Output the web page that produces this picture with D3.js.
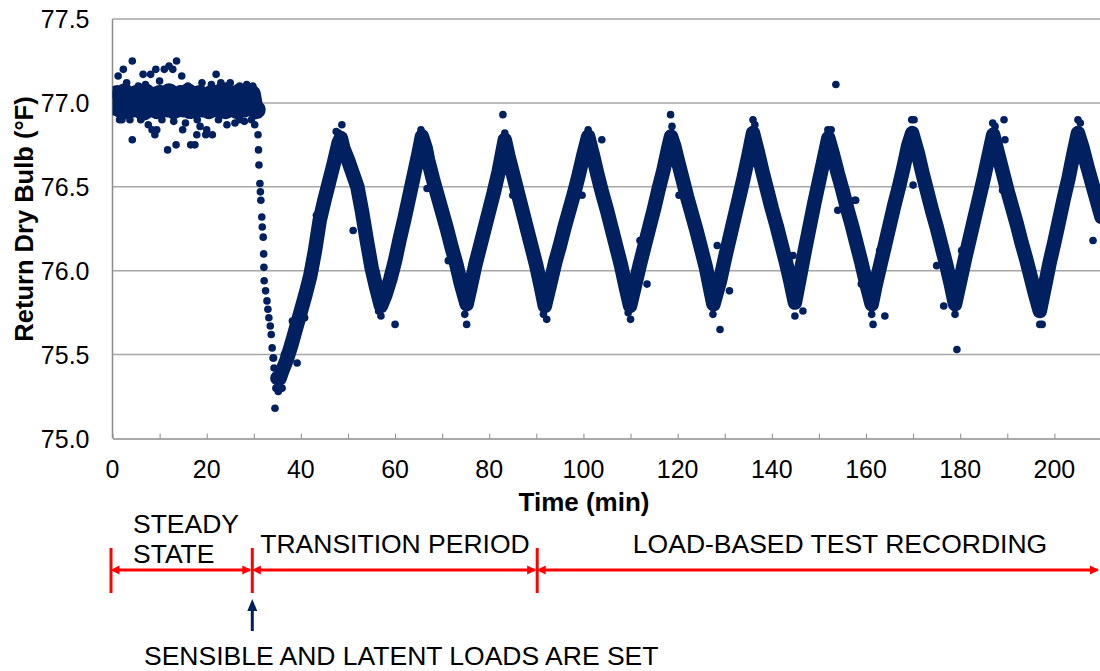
<!DOCTYPE html>
<html>
<head>
<meta charset="utf-8">
<script src="https://cdn.jsdelivr.net/npm/d3@7"></script>
<style>
  html, body { margin: 0; padding: 0; background: #fff; }
  svg { display: block; font-family: "Liberation Sans", Arial, sans-serif; }
</style>
</head>
<body>
<svg id="chart" width="1100" height="671"></svg>
<script>
// --- data ---
const yTicks = [75.0, 75.5, 76.0, 76.5, 77.0, 77.5];
const xTickLabels = [0, 20, 40, 60, 80, 100, 120, 140, 160, 180, 200];
const xTickMarks = [0, 10, 20, 30, 40, 50, 60, 70, 80, 90, 100, 110, 120, 130, 140, 150, 160, 170, 180, 190, 200, 210];

// steady state readings [min, degF]
const steadyReadings = [
  [0, 77.02], [0.5, 76.98], [1, 77.05], [1.5, 76.97], [2, 77.03], [2.5, 77.06], [3, 76.96], [3.5, 77.01],
  [4, 77.04], [4.5, 76.97], [5, 77.05], [5.5, 76.99], [6, 77.02], [6.5, 76.95], [7, 77.06], [7.5, 77.0],
  [8, 76.97], [8.5, 77.04], [9, 77.01], [9.5, 76.96], [10, 77.05], [10.5, 76.98], [11, 77.03], [11.5, 76.97],
  [12, 77.06], [12.5, 77.0], [13, 76.96], [13.5, 77.04], [14, 76.99], [14.5, 77.05], [15, 76.97], [15.5, 77.02],
  [16, 77.06], [16.5, 76.96], [17, 77.01], [17.5, 77.04], [18, 76.98], [18.5, 77.05], [19, 76.97], [19.5, 77.03],
  [20, 77.0], [20.5, 76.96], [21, 77.05], [21.5, 76.99], [22, 77.04], [22.5, 76.97], [23, 77.06], [23.5, 77.0],
  [24, 76.96], [24.5, 77.03], [25, 77.05], [25.5, 76.98], [26, 77.02], [26.5, 76.96], [27, 77.06], [27.5, 77.0],
  [28, 76.97], [28.5, 77.04], [29, 76.99], [29.5, 77.05], [30, 76.97], [30.5, 76.96]
];

// fast drop after loads are set
const dropReadings = [
  [30.7, 76.97], [30.9, 76.81], [31, 76.72], [31.1, 76.63], [31.3, 76.52], [31.4, 76.47], [31.5, 76.42],
  [31.7, 76.32], [31.8, 76.26], [32, 76.2], [32.1, 76.1], [32.15, 76.02], [32.2, 75.94], [32.5, 75.88],
  [32.8, 75.82], [33, 75.77], [33.2, 75.72], [33.5, 75.67], [33.7, 75.62], [33.9, 75.54], [34.1, 75.48],
  [34.3, 75.42], [34.5, 75.36], [34.7, 75.3]
];

// cycling readings
const cycleReadings = [
  [35, 75.36], [35.5, 75.36], [36, 75.4], [37, 75.47], [38, 75.56], [39, 75.66], [40, 75.76], [41, 75.86],
  [42, 75.97], [43, 76.12], [44, 76.3], [45, 76.42], [46, 76.53], [47, 76.64], [48, 76.76], [48.5, 76.79], [49, 76.73],
  [50, 76.66], [51, 76.58], [52, 76.5], [53, 76.35], [54, 76.18], [55, 76.02], [56, 75.9], [57, 75.79],
  [58, 75.86], [59, 75.95], [60, 76.06], [61, 76.19], [62, 76.31], [63, 76.44], [64, 76.57], [65, 76.7], [65.7, 76.8], [66.5, 76.73],
  [67, 76.66], [68, 76.55], [69, 76.45], [70, 76.35], [71, 76.25], [72, 76.14], [73, 76.04], [74, 75.92], [75.2, 75.8],
  [76, 75.9], [77, 76.03], [78, 76.14], [79, 76.25], [80, 76.36], [81, 76.47], [82, 76.59], [83.3, 76.78], [84, 76.69],
  [85, 76.58], [86, 76.47], [87, 76.36], [88, 76.25], [89, 76.14], [90, 76.03], [91, 75.9], [91.8, 75.79],
  [93, 75.93], [94, 76.05], [95, 76.15], [96, 76.26], [97, 76.36], [98, 76.46], [99, 76.57], [100, 76.69], [101, 76.8],
  [102, 76.69], [103, 76.57], [104, 76.46], [105, 76.36], [106, 76.25], [107, 76.14], [108, 76.03], [109, 75.9], [109.9, 75.79],
  [111, 75.92], [112, 76.04], [113, 76.15], [114, 76.26], [115, 76.37], [116, 76.49], [117, 76.6], [118, 76.73], [118.6, 76.8], [119.3, 76.74],
  [120, 76.66], [121, 76.55], [122, 76.44], [123, 76.34], [124, 76.24], [125, 76.13], [126, 76.02], [127, 75.88], [127.6, 75.8],
  [129, 75.94], [130, 76.07], [131, 76.19], [132, 76.31], [133, 76.43], [134, 76.55], [135, 76.68], [136, 76.82],
  [137, 76.71], [138, 76.59], [139, 76.48], [140, 76.37], [141, 76.27], [142, 76.16], [143, 76.05], [144, 75.93], [144.9, 75.81],
  [146, 75.97], [147, 76.12], [148, 76.26], [149, 76.4], [150, 76.53], [151, 76.66], [152, 76.79],
  [153, 76.69], [154, 76.58], [155, 76.48], [156, 76.37], [157, 76.27], [158, 76.16], [159, 76.05], [160, 75.93], [161.2, 75.8],
  [162, 75.91], [163, 76.03], [164, 76.15], [165, 76.27], [166, 76.39], [167, 76.5], [168, 76.62], [169, 76.75], [169.8, 76.82],
  [171, 76.7], [172, 76.58], [173, 76.47], [174, 76.36], [175, 76.26], [176, 76.15], [177, 76.04], [178, 75.92], [178.9, 75.8],
  [180, 75.94], [181, 76.07], [182, 76.19], [183, 76.31], [184, 76.43], [185, 76.55], [186, 76.68], [187, 76.81],
  [188, 76.7], [189, 76.59], [190, 76.48], [191, 76.38], [192, 76.28], [193, 76.17], [194, 76.07], [195, 75.96], [196, 75.85], [196.9, 75.76],
  [198, 75.91], [199, 76.05], [200, 76.17], [201, 76.3], [202, 76.43], [203, 76.55], [204, 76.69], [205, 76.82],
  [206, 76.73], [207, 76.62], [208, 76.52], [209, 76.42], [210, 76.32]
];

// scattered readings outside the main band
const strayReadings = [
  [4.2, 77.25], [13.6, 77.25], [12, 77.22], [9.2, 77.2], [11, 77.2], [12.8, 77.2], [2.3, 77.2], [6.5, 77.17],
  [8.1, 77.17], [22, 77.17], [14.7, 77.16], [1.2, 77.16], [4.2, 76.78], [11.7, 76.72], [13.5, 76.75], [16.6, 76.75],
  [17.5, 76.75], [14.9, 76.84], [17.9, 76.81], [19.8, 76.81], [21.2, 76.81], [9, 76.81], [9.4, 76.84], [8.4, 76.84],
  [7.6, 76.87], [20, 76.84], [24.3, 76.87], [30.2, 76.87], [1.5, 76.9], [3.7, 76.9], [3, 77.12], [19, 77.12],
  [23, 77.12], [25, 77.12], [27, 77.1], [29.8, 77.1], [0, 77.05], [10, 77.13], [26, 76.88], [28, 76.89],
  [15.5, 76.88], [18.6, 76.86], [5.5, 77.1], [7, 77.11], [16, 77.1], [21, 77.11], [24, 77.1], [28.5, 77.11],
  [2, 76.9], [6, 76.9], [10.5, 76.9], [13, 76.89], [18, 76.9], [22.5, 76.9], [27, 76.9], [29.5, 76.9],
  [34.5, 75.18], [36, 75.3], [35.2, 75.28], [34.2, 75.48], [36.5, 75.5], [38.2, 75.7], [39.2, 75.45], [40.8, 75.72],
  [43.3, 76.33], [47.5, 76.83], [48.7, 76.87], [48, 76.82], [51.1, 76.24], [60, 75.68],
  [57, 75.73], [56.5, 75.76], [65.5, 76.84], [66.8, 76.49], [71.3, 76.06], [75.2, 75.68], [74.8, 75.74], [82.9, 76.93],
  [83.3, 76.82], [85, 76.45], [92.2, 75.71], [91.5, 75.74], [99.7, 76.45], [101, 76.84], [103.9, 76.78], [110, 75.71],
  [109.5, 75.75], [112, 76.18], [113.5, 75.92], [118.5, 76.93], [118.8, 76.86], [120.3, 76.45], [127.5, 75.74], [128.4, 76.15],
  [129, 75.65], [131, 75.88], [136, 76.9], [136.4, 76.87], [144.5, 76.09], [144.9, 75.73], [146.6, 75.76], [151.9, 76.84],
  [152.6, 76.84], [153.6, 77.11], [154, 76.36], [157.8, 76.42], [159, 75.92], [157.6, 76.42], [161.5, 75.68], [161.2, 75.74],
  [162.9, 76.12], [164, 75.73], [169.7, 76.9], [170.2, 76.9], [170, 76.51], [175, 76.03], [176.5, 75.79], [178.9, 75.74],
  [179.3, 75.53], [180.3, 76.12], [186.9, 76.88], [187.4, 76.86], [189.3, 76.9], [189.5, 76.78], [189, 76.48], [196.9, 75.68],
  [197.4, 75.68], [205, 76.9], [205.5, 76.88], [208.2, 76.18]
];

// test phases (min)
const phaseBounds = [0, 30, 90.5, 210];
const phaseNames = ['TRANSITION PERIOD', 'LOAD-BASED TEST RECORDING'];

// --- layout ---
const margin = { left: 112.5, top: 19 };
const plotW = 989;
const plotH = 419.5;
const navy = '#002060';
const red = '#ff0000';

const svg = d3.select('#chart');

const x = d3.scaleLinear().domain([0, 210]).range([margin.left, margin.left + plotW]);
const y = d3.scaleLinear().domain([75, 77.5]).range([margin.top + plotH, margin.top]);

svg.append('defs').append('clipPath').attr('id', 'plotClip')
  .append('rect')
  .attr('x', margin.left).attr('y', margin.top - 6)
  .attr('width', plotW).attr('height', plotH + 6);

// gridlines
svg.append('g')
  .selectAll('line')
  .data(yTicks.slice(1))
  .join('line')
  .attr('x1', x(0)).attr('x2', x(210))
  .attr('y1', (d) => y(d)).attr('y2', (d) => y(d))
  .attr('stroke', '#a6a6a6')
  .attr('stroke-width', 1.5);

// y axis line and labels
svg.append('line')
  .attr('x1', x(0)).attr('x2', x(0))
  .attr('y1', y(77.5)).attr('y2', y(75))
  .attr('stroke', '#8c8c8c').attr('stroke-width', 1.5);

svg.append('g')
  .selectAll('text')
  .data(yTicks)
  .join('text')
  .attr('x', x(0) - 23)
  .attr('y', (d) => y(d))
  .attr('dy', '0.36em')
  .attr('text-anchor', 'end')
  .attr('font-size', 25)
  .text((d) => d.toFixed(1));

// x axis
const xAxis = d3.axisBottom(x)
  .tickValues(xTickMarks)
  .tickSize(-5)
  .tickSizeOuter(0)
  .tickFormat('');
const gx = svg.append('g')
  .attr('transform', `translate(0,${y(75)})`)
  .call(xAxis);
gx.select('.domain').attr('stroke', '#8c8c8c').attr('stroke-width', 1.5);
gx.selectAll('.tick line').attr('stroke', '#8c8c8c');

svg.append('g')
  .selectAll('text')
  .data(xTickLabels)
  .join('text')
  .attr('x', (d) => x(d))
  .attr('y', y(75) + 39)
  .attr('text-anchor', 'middle')
  .attr('font-size', 25)
  .text((d) => d);

// axis titles
svg.append('text')
  .attr('x', 584)
  .attr('y', 511)
  .attr('text-anchor', 'middle')
  .attr('font-size', 26)
  .attr('font-weight', 'bold')
  .text('Time (min)');

svg.append('text')
  .attr('transform', 'translate(33,219) rotate(-90)')
  .attr('text-anchor', 'middle')
  .attr('font-size', 25.5)
  .attr('font-weight', 'bold')
  .text('Return Dry Bulb (°F)');

// --- data marks ---
const data = svg.append('g').attr('clip-path', 'url(#plotClip)');
const line = d3.line().x((d) => x(d[0])).y((d) => y(d[1]));

data.append('path')
  .datum(steadyReadings)
  .attr('d', line)
  .attr('fill', 'none')
  .attr('stroke', navy)
  .attr('stroke-width', 19)
  .attr('stroke-linejoin', 'round')
  .attr('stroke-linecap', 'round');

data.append('path')
  .datum(cycleReadings)
  .attr('d', line)
  .attr('fill', 'none')
  .attr('stroke', navy)
  .attr('stroke-width', 14.5)
  .attr('stroke-linejoin', 'round')
  .attr('stroke-linecap', 'round');

data.append('g')
  .selectAll('circle')
  .data(dropReadings.concat(strayReadings))
  .join('circle')
  .attr('cx', (d) => x(d[0]))
  .attr('cy', (d) => y(d[1]))
  .attr('r', 3.8)
  .attr('fill', navy);

// --- phase annotations ---
const ann = svg.append('g');
const barTop = 548;
const barBottom = 593;
const arrowY = 570;

ann.selectAll('line.bar')
  .data(phaseBounds.slice(0, 3))
  .join('line')
  .attr('class', 'bar')
  .attr('x1', (d) => x(d) - 1.5).attr('x2', (d) => x(d) - 1.5)
  .attr('y1', barTop).attr('y2', barBottom)
  .attr('stroke', red).attr('stroke-width', 3);

const segs = d3.pairs(phaseBounds);
ann.selectAll('line.seg')
  .data(segs)
  .join('line')
  .attr('class', 'seg')
  .attr('x1', (d) => x(d[0]) + 2).attr('x2', (d) => Math.min(x(d[1]) - 4, 1100))
  .attr('y1', arrowY).attr('y2', arrowY)
  .attr('stroke', red).attr('stroke-width', 3);

// arrowheads at both ends of each segment
const heads = [];
segs.forEach((s) => {
  heads.push({ tip: x(s[0]), dir: -1 });
  heads.push({ tip: Math.min(x(s[1]) - 1.5, 1100), dir: 1 });
});
ann.selectAll('path.head')
  .data(heads)
  .join('path')
  .attr('class', 'head')
  .attr('d', (d) => {
    const t = d.dir > 0 ? d.tip - 1 : d.tip - 2;
    const b = t - d.dir * 9;
    return `M${t},${arrowY}L${b},${arrowY - 4.5}L${b},${arrowY + 4.5}Z`;
  })
  .attr('fill', red);

ann.append('text')
  .attr('x', 133).attr('y', 533)
  .attr('font-size', 26.5)
  .text('STEADY');
ann.append('text')
  .attr('x', 133).attr('y', 563)
  .attr('font-size', 26.5)
  .text('STATE');

ann.selectAll('text.phase')
  .data(phaseNames)
  .join('text')
  .attr('class', 'phase')
  .attr('x', (d, i) => (i === 0 ? 395 : 840))
  .attr('y', 553)
  .attr('text-anchor', 'middle')
  .attr('font-size', 26.5)
  .text((d) => d);

// loads-set marker
const setX = x(phaseBounds[1]) - 1.5;
ann.append('line')
  .attr('x1', setX).attr('x2', setX)
  .attr('y1', 608).attr('y2', 631)
  .attr('stroke', navy).attr('stroke-width', 3);
ann.append('path')
  .attr('d', `M${setX},599L${setX - 5},611L${setX + 5},611Z`)
  .attr('fill', navy);

ann.append('text')
  .attr('x', 144).attr('y', 665)
  .attr('font-size', 26.5)
  .text('SENSIBLE AND LATENT LOADS ARE SET');
</script>
</body>
</html>
